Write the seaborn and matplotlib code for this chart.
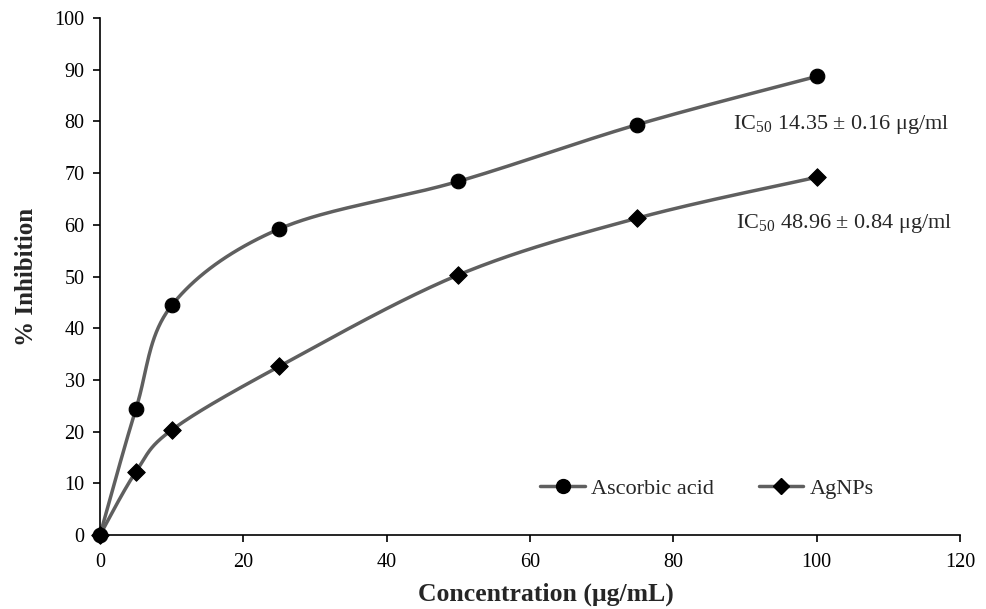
import numpy as np
import pandas as pd
import matplotlib
matplotlib.use("Agg")
import matplotlib.pyplot as plt
from matplotlib.lines import Line2D
import seaborn as sns

conc = [0, 5, 10, 25, 50, 75, 100]
ascorbic = [0, 24.3, 44.4, 59.2, 68.4, 79.4, 88.7]
agnps = [0, 12.2, 20.3, 32.6, 50.3, 61.3, 69.2]
series_names = ["Ascorbic acid", "AgNPs"]
ic50_labels = ["IC$_{\\mathregular{50}}$ 14.35 ± 0.16 μg/ml",
               "IC$_{\\mathregular{50}}$ 48.96 ± 0.84 μg/ml"]

sns.set_theme(style="white")
plt.rcParams['font.family'] = ['Liberation Serif', 'DejaVu Serif']
plt.rcParams['mathtext.fontset'] = 'custom'
plt.rcParams['mathtext.rm'] = 'Liberation Serif'

LINE = "#5f5f5f"


def smooth(xs, ys, sx=7.167, sy=5.17, n=40):
    # Excel-style smoothed line (Catmull-Rom Bezier) rendered from the data points
    P = np.column_stack([np.asarray(xs, float) * sx, np.asarray(ys, float) * sy])
    out = [P[0]]
    m = len(P)
    for i in range(m - 1):
        p0 = P[i - 1] if i > 0 else P[i]
        p1, p2 = P[i], P[i + 1]
        p3 = P[i + 2] if i + 2 < m else P[i + 1]
        c1 = p1 + (p2 - p0) / 6.0
        c2 = p2 - (p3 - p1) / 6.0
        t = np.linspace(0, 1, n)[1:, None]
        seg = ((1 - t) ** 3) * p1 + 3 * ((1 - t) ** 2) * t * c1 + 3 * (1 - t) * t ** 2 * c2 + t ** 3 * p2
        out.extend(seg)
    out = np.array(out)
    return out[:, 0] / sx, out[:, 1] / sy


fig = plt.figure(figsize=(9.87, 6.09), dpi=100)
ax = fig.add_axes([0.1013, 0.1215, 0.8713, 0.8489])

markers = ["o", "D"]
msizes = [110, 80]
for name, vals, mk, ms in zip(series_names[::-1], [agnps, ascorbic], markers[::-1], msizes[::-1]):
    cx, cy = smooth(conc, vals)
    sns.lineplot(x=cx, y=cy, ax=ax, color=LINE, linewidth=2.5, sort=False, estimator=None)
    sns.scatterplot(x=conc, y=vals, ax=ax, marker=mk, s=ms, color="black",
                    edgecolor="black", zorder=5, clip_on=False)

ax.set_xlim(0, 120)
ax.set_ylim(0, 100)
ax.set_xticks(range(0, 121, 20))
ax.set_yticks(range(0, 101, 10))
ax.tick_params(axis="both", labelsize=14.5, direction="out", length=5, width=1.2,
               colors="black", left=True, bottom=True)
ax.tick_params(axis="x", pad=8)
ax.tick_params(axis="y", pad=6)
for side in ["top", "right"]:
    ax.spines[side].set_visible(False)
for side in ["left", "bottom"]:
    ax.spines[side].set_color("black")
    ax.spines[side].set_linewidth(1.2)

ax.set_xlabel("Concentration (μg/mL)", fontsize=18.5, fontweight="bold", labelpad=8)
ax.xaxis.set_label_coords(0.519, -0.092)
ax.set_ylabel("% Inhibition", fontsize=18, fontweight="bold", labelpad=12)

ax.text(88.3, 79.4, ic50_labels[0], fontsize=16, va="center", ha="left")
ax.text(88.7, 60.2, ic50_labels[1], fontsize=16, va="center", ha="left")

handles = [Line2D([0], [0], color=LINE, lw=2.5, marker="o", markersize=10,
                  markerfacecolor="black", markeredgecolor="black"),
           Line2D([0], [0], color=LINE, lw=2.5, marker="D", markersize=8,
                  markerfacecolor="black", markeredgecolor="black")]
ax.legend(handles, series_names, ncol=2, frameon=False, fontsize=16,
          loc="center", bbox_to_anchor=(0.706, 0.09), handlelength=2.0,
          columnspacing=2.0, handletextpad=0.3)

fig.savefig("out.png", dpi=100)
